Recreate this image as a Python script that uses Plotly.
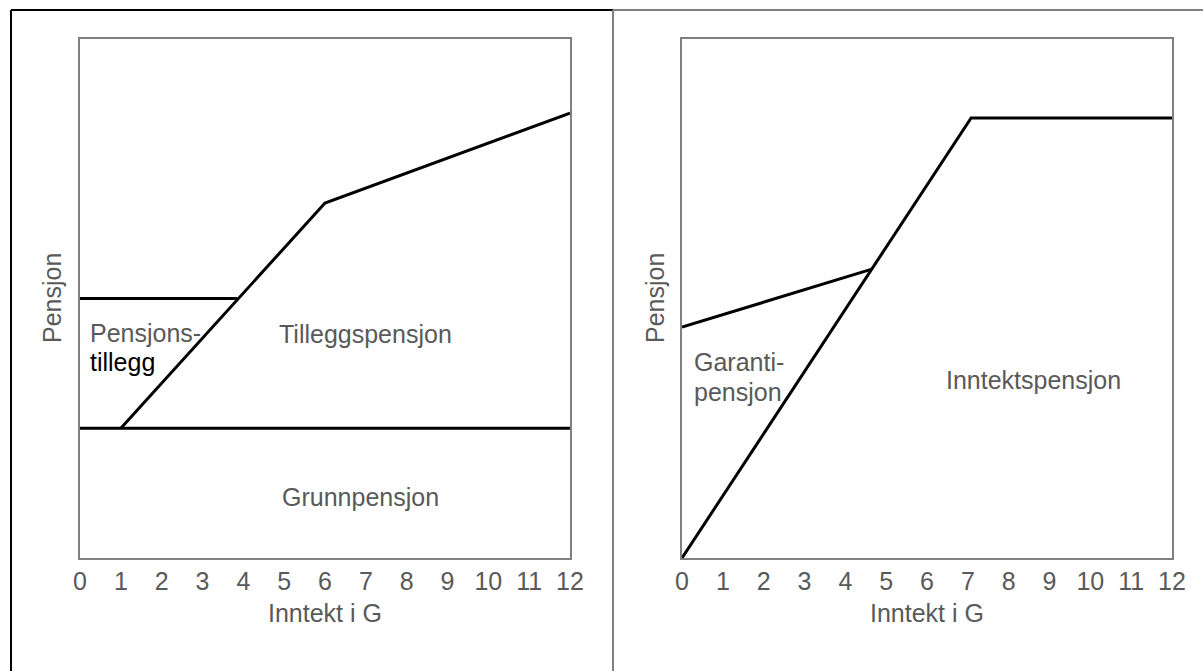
import plotly.graph_objects as go
from plotly.subplots import make_subplots

# left panel: old system
ticks = list(range(0, 13))
grunn_x = [0, 12]
grunn_y = [25, 25]
tillegg_x = [0, 3.85]
tillegg_y = [50, 50]
tp_x = [1, 6, 12]
tp_y = [25, 68.4, 85.7]

# right panel: new system
inntekt_x = [0, 7.08, 12]
inntekt_y = [0, 84.8, 84.8]
garanti_x = [0, 4.63]
garanti_y = [44.5, 55.6]

W, H = 1203, 671
GRAY = "#595959"
FONT = "Liberation Sans, Arial, sans-serif"

fig = make_subplots(rows=1, cols=2)

line = dict(color="black", width=3)
for xs, ys in [(grunn_x, grunn_y), (tillegg_x, tillegg_y), (tp_x, tp_y)]:
    fig.add_trace(go.Scatter(x=xs, y=ys, mode="lines", line=line,
                             showlegend=False, hoverinfo="skip"), row=1, col=1)
for xs, ys in [(inntekt_x, inntekt_y), (garanti_x, garanti_y)]:
    fig.add_trace(go.Scatter(x=xs, y=ys, mode="lines", line=line,
                             showlegend=False, hoverinfo="skip"), row=1, col=2)

ydom = [1 - 558 / H, 1 - 39 / H]
fig.update_layout(
    width=W, height=H, autosize=False,
    margin=dict(l=0, r=0, t=0, b=0, pad=0),
    paper_bgcolor="white", plot_bgcolor="white",
    font=dict(family=FONT, size=25, color=GRAY),
    xaxis=dict(domain=[80 / W, 570 / W]),
    xaxis2=dict(domain=[682 / W, 1172 / W]),
    yaxis=dict(domain=ydom),
    yaxis2=dict(domain=ydom),
)
axis_style = dict(showline=True, mirror=True, linecolor="#808080", linewidth=2,
                  showgrid=False, zeroline=False, ticks="", fixedrange=True,
                  automargin=False)
fig.update_xaxes(range=[0, 12], tickvals=ticks, ticklabelstandoff=0, **axis_style)
fig.update_yaxes(range=[0, 100], showticklabels=False, **axis_style)

anns = []
# axis titles
for cx in [(80 + 570) / 2, (682 + 1172) / 2]:
    anns.append(dict(xref="paper", yref="paper", x=cx / W, y=1 - 613 / H,
                     text="Inntekt i G"))
for cx in [52, 655]:
    anns.append(dict(xref="paper", yref="paper", x=cx / W, y=1 - 298 / H,
                     text="Pensjon", textangle=-90))

# area labels
anns += [
    dict(xref="x", yref="y", x=0.2, y=43.4, text="Pensjons-", xanchor="left"),
    dict(xref="x", yref="y", x=0.2, y=37.8, text="tillegg", xanchor="left",
         font=dict(color="black")),
    dict(xref="x", yref="y", x=6.98, y=43.2, text="Tilleggspensjon"),
    dict(xref="x", yref="y", x=6.88, y=11.75, text="Grunnpensjon"),
    dict(xref="x2", yref="y2", x=0.245, y=37.8, text="Garanti-", xanchor="left"),
    dict(xref="x2", yref="y2", x=0.245, y=32.0, text="pensjon", xanchor="left"),
    dict(xref="x2", yref="y2", x=8.6, y=34.3, text="Inntektspensjon"),
]
for a in anns:
    a.setdefault("showarrow", False)
    a.setdefault("xanchor", "center")
    a.setdefault("yanchor", "middle")
fig.update_layout(annotations=anns)

# outer frames
def seg(x0, y0, x1, y1, color):
    return dict(type="line", xref="paper", yref="paper",
                x0=x0 / W, y0=1 - y0 / H, x1=x1 / W, y1=1 - y1 / H,
                line=dict(color=color, width=2))

fig.update_layout(shapes=[
    seg(11, 10, 613, 10, "black"),
    seg(11, 10, 11, H, "black"),
    seg(613, 10, W, 10, "#808080"),
    seg(613, 10, 613, H, "#808080"),
])

fig.write_html("out.html", config={"displayModeBar": False},
               post_script="document.body.style.margin='0';"
                           "document.body.style.overflow='hidden';")
